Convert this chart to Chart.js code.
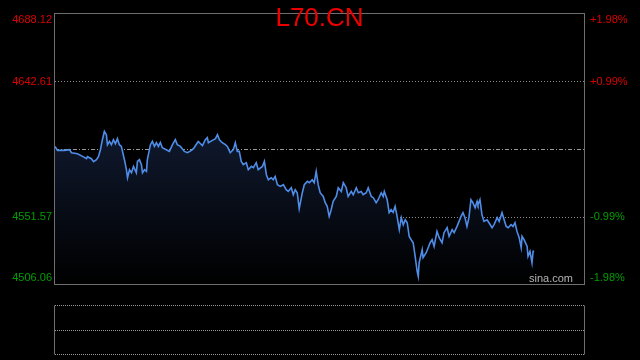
<!DOCTYPE html>
<html>
<head>
<meta charset="utf-8">
<title>L70.CN</title>
<script src="https://cdn.jsdelivr.net/npm/chart.js@4.4.1/dist/chart.umd.min.js"></script>
<style>
  html, body { margin: 0; padding: 0; background: #000; }
  #wrap { position: relative; width: 640px; height: 360px; }
</style>
</head>
<body>
<div id="wrap"><canvas id="chart" width="640" height="360"></canvas></div>
<script>
// ---------- Data ----------
const symbol = 'L70.CN';
const prevClose = 4597.09;
const priceMin = 4506.06;
const priceMax = 4688.12;
const sessionMinutes = 240;

// left price labels and right percentage labels, bottom to top
const priceTicks = [4506.06, 4551.57, 4597.09, 4642.61, 4688.12];
const pctLabels = ['-1.98%', '-0.99%', '', '+0.99%', '+1.98%'];

// minute of session for each sampled point
const times = [
  0, 1.1, 4.3, 6.6, 7.5, 10.2, 12.5, 14.3, 14.7, 16.5, 17.5, 18.8, 19.7, 20.6, 21.5, 22.4, 23.3, 23.8, 24.7, 25.6,
  26.5, 27.4, 28.3, 29.2, 30.1, 31.5, 32.4, 32.9, 33.8, 34.7, 35.6, 36.9, 37.4, 38.3, 39.2, 39.7, 40.6, 41.5, 41.9, 43.3,
  44.2, 45.1, 46.0, 46.9, 47.8, 48.7, 50.5, 51.9, 53.3, 54.6, 55.5, 56.9, 58.7, 60.1, 61.9, 62.8, 64.6, 65.0, 66.9, 68.2,
  69.1, 69.6, 71.4, 72.8, 73.7, 74.6, 75.9, 77.3, 78.2, 79.5, 80.9, 81.8, 82.7, 83.6, 84.5, 85.4, 86.8, 87.7, 89.1, 90.0,
  91.3, 92.2, 94.1, 95.0, 95.9, 96.8, 98.1, 99.0, 99.9, 100.9, 102.2, 103.6, 104.9, 105.8, 107.2, 108.1, 109.0, 109.9, 110.8, 112.2,
  113.1, 114.5, 115.4, 116.7, 117.6, 118.5, 119.4, 120.3, 121.7, 122.6, 123.5, 124.4, 125.3, 126.2, 127.6, 128.5, 129.9, 130.8, 132.1, 133.0,
  134.4, 135.3, 136.7, 137.6, 138.9, 139.8, 141.2, 142.1, 143.5, 144.4, 145.7, 146.6, 148.0, 148.9, 149.4, 150.7, 151.6, 152.5, 153.4, 154.3,
  155.2, 156.2, 157.1, 158.0, 158.9, 159.8, 160.7, 161.6, 162.5, 163.4, 164.3, 164.8, 165.2, 166.6, 167.0, 168.4, 169.3, 170.2, 171.1, 172.0,
  173.3, 174.3, 175.6, 176.5, 177.9, 178.8, 180.2, 181.1, 182.4, 184.2, 185.1, 186.0, 186.9, 187.8, 188.7, 189.6, 190.6, 191.5, 191.9, 192.8,
  193.7, 194.6, 196.0, 196.9, 198.3, 199.2, 200.6, 201.5, 202.8, 204.7, 205.6, 206.9, 207.8, 208.7, 209.6, 210.6, 211.5, 211.9, 212.8, 214.2,
  214.6, 215.5, 216.4, 216.9, 217.4
];

// last price at each sampled minute
const prices = [
  4598.84, 4596.15, 4596.15, 4596.62, 4594.59, 4593.92, 4592.10, 4590.55, 4591.90, 4590.55, 4588.53, 4589.87, 4591.90, 4596.62, 4603.36, 4608.96, 4606.73, 4599.99, 4602.21, 4599.99,
  4603.36, 4600.66, 4604.04, 4599.99, 4598.84, 4589.87, 4583.13, 4577.74, 4583.13, 4581.11, 4585.36, 4581.11, 4588.73, 4589.87, 4586.50, 4581.11, 4583.13, 4581.99, 4589.87, 4599.99,
  4602.21, 4598.84, 4601.34, 4598.84, 4601.54, 4597.97, 4596.62, 4595.47, 4599.99, 4603.36, 4599.99, 4598.84, 4595.47, 4594.59, 4596.15, 4597.29, 4601.34, 4602.21, 4599.31, 4603.36,
  4604.71, 4601.34, 4602.89, 4604.04, 4606.73, 4603.36, 4601.34, 4599.99, 4598.84, 4594.59, 4596.62, 4601.34, 4595.47, 4595.47, 4588.73, 4586.50, 4587.85, 4583.13, 4585.36, 4584.48,
  4587.85, 4583.13, 4585.36, 4588.73, 4579.76, 4576.39, 4577.74, 4576.39, 4578.61, 4573.02, 4571.87, 4573.02, 4569.65, 4568.50, 4570.99, 4566.27, 4569.65, 4567.62, 4556.83, 4567.62,
  4573.02, 4575.24, 4574.37, 4576.39, 4574.37, 4581.99, 4573.02, 4567.62, 4565.13, 4560.88, 4558.39, 4551.64, 4556.16, 4561.76, 4565.13, 4570.99, 4568.50, 4574.37, 4570.99, 4565.13,
  4568.50, 4566.27, 4570.99, 4567.62, 4568.50, 4566.27, 4567.62, 4570.99, 4565.13, 4564.25, 4560.88, 4562.90, 4567.62, 4565.13, 4568.50, 4562.90, 4554.14, 4556.16, 4554.34, 4558.39,
  4551.64, 4542.67, 4550.77, 4546.05, 4549.42, 4547.39, 4538.16, 4535.93, 4533.91, 4524.67, 4514.56, 4511.18, 4520.42, 4529.19, 4523.79, 4527.16, 4530.54, 4533.91, 4535.93, 4531.41,
  4541.53, 4537.28, 4533.91, 4540.65, 4544.02, 4538.16, 4542.67, 4540.65, 4544.90, 4551.64, 4554.14, 4550.77, 4544.90, 4550.77, 4562.90, 4560.88, 4557.51, 4561.76, 4559.53, 4562.90,
  4552.79, 4548.27, 4549.42, 4547.39, 4544.02, 4546.05, 4550.77, 4548.27, 4554.14, 4544.90, 4544.02, 4546.05, 4544.90, 4547.39, 4541.53, 4537.28, 4530.54, 4538.16, 4535.93, 4531.41,
  4524.67, 4528.05, 4520.42, 4528.05, 4528.05
];

// ---------- Colors ----------
const RED = '#dd0000';
const GREEN = '#009e00';
const GRID = '#8a8a8a';
const BORDER = '#6e6e6e';
const LINE = '#4f8de8';

// ---------- Decorations: grid, labels, title, lower panel ----------
const decorPlugin = {
  id: 'decor',
  beforeDatasetsDraw(chart) {
    const { ctx, chartArea: a, scales: { y } } = chart;
    ctx.save();
    ctx.lineWidth = 1;
    // inner dotted grid lines
    [priceTicks[1], priceTicks[3]].forEach(v => {
      const py = Math.round(y.getPixelForValue(v)) + 0.5;
      ctx.strokeStyle = GRID;
      ctx.setLineDash([1, 2]);
      ctx.beginPath(); ctx.moveTo(a.left, py); ctx.lineTo(a.right, py); ctx.stroke();
    });
    // previous close: dash-dot
    const pc = Math.round(y.getPixelForValue(prevClose)) + 0.5;
    ctx.strokeStyle = '#9a9a9a';
    ctx.setLineDash([4, 2, 1, 2]);
    ctx.beginPath(); ctx.moveTo(a.left, pc); ctx.lineTo(a.right, pc); ctx.stroke();
    ctx.restore();
  },
  afterDraw(chart) {
    const { ctx, chartArea: a, scales: { y } } = chart;
    ctx.save();
    // main frame
    ctx.setLineDash([]);
    ctx.strokeStyle = BORDER;
    ctx.lineWidth = 1;
    ctx.strokeRect(Math.round(a.left) - 0.5, Math.round(a.top) - 0.5,
      Math.round(a.right - a.left) + 1, Math.round(a.bottom - a.top) + 1);

    // lower (volume) panel, empty
    const pTop = Math.round(a.bottom) + 21.5;
    const pBot = pTop + 49;
    const pMid = pTop + 25;
    ctx.beginPath();
    ctx.moveTo(Math.round(a.left) - 0.5, pTop); ctx.lineTo(Math.round(a.left) - 0.5, pBot);
    ctx.moveTo(Math.round(a.right) + 0.5, pTop); ctx.lineTo(Math.round(a.right) + 0.5, pBot);
    ctx.stroke();
    ctx.strokeStyle = '#9a9a9a';
    ctx.setLineDash([1, 1]);
    [pTop, pMid, pBot].forEach(py => {
      ctx.beginPath(); ctx.moveTo(a.left, py); ctx.lineTo(a.right, py); ctx.stroke();
    });
    ctx.setLineDash([]);

    // axis labels
    ctx.font = '11px Arial, "Liberation Sans", sans-serif';
    ctx.textBaseline = 'middle';
    priceTicks.forEach((v, i) => {
      let py = y.getPixelForValue(v);
      if (i === 0) py -= 6;
      if (i === priceTicks.length - 1) py += 6;
      if (v === prevClose) return;
      const col = v > prevClose ? RED : GREEN;
      ctx.fillStyle = col;
      ctx.textAlign = 'right';
      ctx.fillText(v.toFixed(2), a.left - 3, py);
      ctx.textAlign = 'left';
      ctx.fillText(pctLabels[i], a.right + 6, py);
    });

    // watermark
    ctx.fillStyle = '#b4b4b4';
    ctx.textAlign = 'right';
    ctx.fillText('sina.com', a.right - 11, a.bottom - 5);

    // title
    ctx.fillStyle = '#ee0000';
    ctx.font = '26px Arial, "Liberation Sans", sans-serif';
    ctx.textAlign = 'center';
    ctx.textBaseline = 'alphabetic';
    ctx.fillText(symbol, (a.left + a.right) / 2, 26);
    ctx.restore();
  }
};

// ---------- Chart ----------
const ctx = document.getElementById('chart').getContext('2d');
const points = times.map((t, i) => ({ x: t, y: prices[i] }));

new Chart(ctx, {
  type: 'line',
  data: {
    datasets: [{
      data: points,
      borderColor: LINE,
      borderWidth: 1.6,
      pointRadius: 0,
      tension: 0,
      fill: 'start',
      backgroundColor: (c) => {
        const area = c.chart.chartArea;
        if (!area) return 'rgba(0,0,0,0)';
        const g = c.chart.ctx.createLinearGradient(0, area.top + 110, 0, area.bottom);
        g.addColorStop(0, 'rgba(16,26,48,1)');
        g.addColorStop(1, 'rgba(0,0,0,1)');
        return g;
      }
    }]
  },
  options: {
    responsive: false,
    animation: false,
    layout: { padding: { left: 55, right: 56, top: 14, bottom: 76 } },
    plugins: { legend: { display: false }, tooltip: { enabled: false } },
    scales: {
      x: { type: 'linear', min: 0, max: sessionMinutes, display: false },
      y: { min: priceMin, max: priceMax, display: false }
    }
  },
  plugins: [decorPlugin]
});
</script>
</body>
</html>
